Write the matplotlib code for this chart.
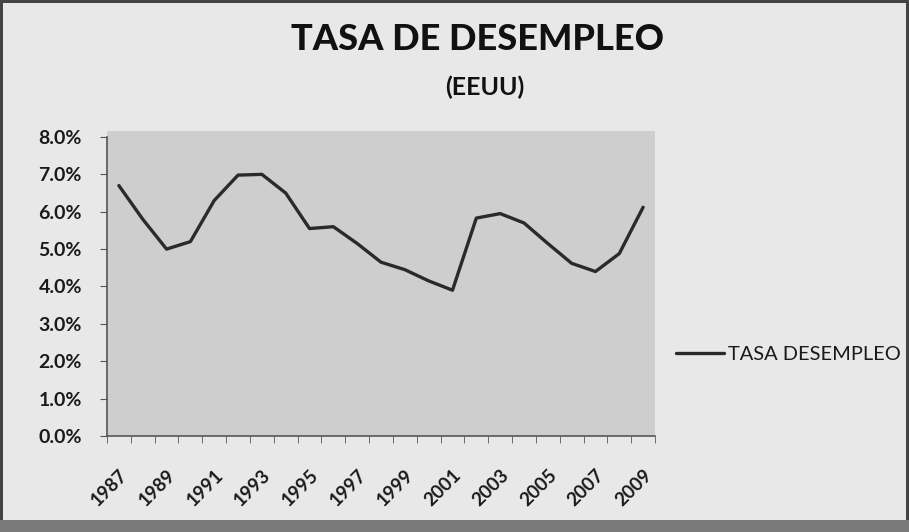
import numpy as np
import matplotlib.pyplot as plt
from matplotlib.patches import Rectangle
from matplotlib.ticker import PercentFormatter, FixedLocator

plt.rcParams['font.family'] = ['Lato', 'DejaVu Sans']

# datos
years = list(range(1987, 2010))
tasa = [6.7, 5.8, 5.0, 5.2, 6.3, 6.98, 7.0, 6.5, 5.55, 5.6, 5.15, 4.65,
        4.45, 4.15, 3.9, 5.83, 5.95, 5.7, 5.15, 4.62, 4.4, 4.88, 6.12]
tick_years = years[::2]

fig = plt.figure(figsize=(9.09, 5.32), dpi=100)
fig.patch.set_facecolor('#e8e8e8')
fig.patch.set_edgecolor('#444444')
fig.patch.set_linewidth(4)

# franja oscura inferior del marco
fig.patches.append(Rectangle((0, 0), 1, 0.022, transform=fig.transFigure,
                             facecolor='#7a7a7a', edgecolor='none', zorder=0))

# fondo gris del área de trazado (un poco más alto que el eje)
fig.patches.append(Rectangle((0.1177, 0.1805), 0.6029, 0.574,
                             transform=fig.transFigure, facecolor='#cecece',
                             edgecolor='none', zorder=0))

ax = fig.add_axes([0.1177, 0.1805, 0.6029, 0.562])
ax.set_facecolor('none')
ax.set_zorder(2)

x = np.arange(len(years))
line, = ax.plot(x, np.array(tasa) / 100, color='#2a2a2a', lw=2.4,
                solid_joinstyle='round', solid_capstyle='round',
                label='TASA DESEMPLEO')

ax.set_xlim(-0.5, len(years) - 0.5)
ax.set_ylim(0, 0.08)
ax.set_yticks(np.arange(0, 0.081, 0.01))
ax.yaxis.set_major_formatter(PercentFormatter(1.0, decimals=1))

ax.set_xticks([years.index(v) for v in tick_years])
ax.set_xticklabels([str(v) for v in tick_years], rotation=45, ha='right',
                   rotation_mode='anchor')
ax.xaxis.set_minor_locator(FixedLocator(np.arange(-0.5, len(years), 1)))
ax.tick_params(axis='x', which='major', length=0, pad=22, labelsize=13.5)
ax.tick_params(axis='x', which='minor', length=5, color='#555555')
ax.tick_params(axis='y', length=5, color='#555555', labelsize=14, pad=13)
for lab in ax.get_xticklabels() + ax.get_yticklabels():
    lab.set_fontweight('bold')
    lab.set_color('#1a1a1a')

for s in ['top', 'right']:
    ax.spines[s].set_visible(False)
for s in ['left', 'bottom']:
    ax.spines[s].set_color('#555555')
    ax.spines[s].set_linewidth(1.2)

fig.text(0.525, 0.925, 'TASA DE DESEMPLEO', ha='center', va='center',
         fontsize=26, fontweight='black', color='#111111')
fig.text(0.533, 0.835, '(EEUU)', ha='center', va='center',
         fontsize=18, fontweight='bold', color='#111111')

leg = fig.legend(handles=[line], loc='center left',
                 bbox_to_anchor=(0.733, 0.333), frameon=False, fontsize=14.4,
                 handlelength=2.4, handletextpad=0.2, borderpad=0)
for t in leg.get_texts():
    t.set_color('#1a1a1a')

fig.savefig('out.png', dpi=100, facecolor=fig.get_facecolor(),
            edgecolor=fig.get_edgecolor())
